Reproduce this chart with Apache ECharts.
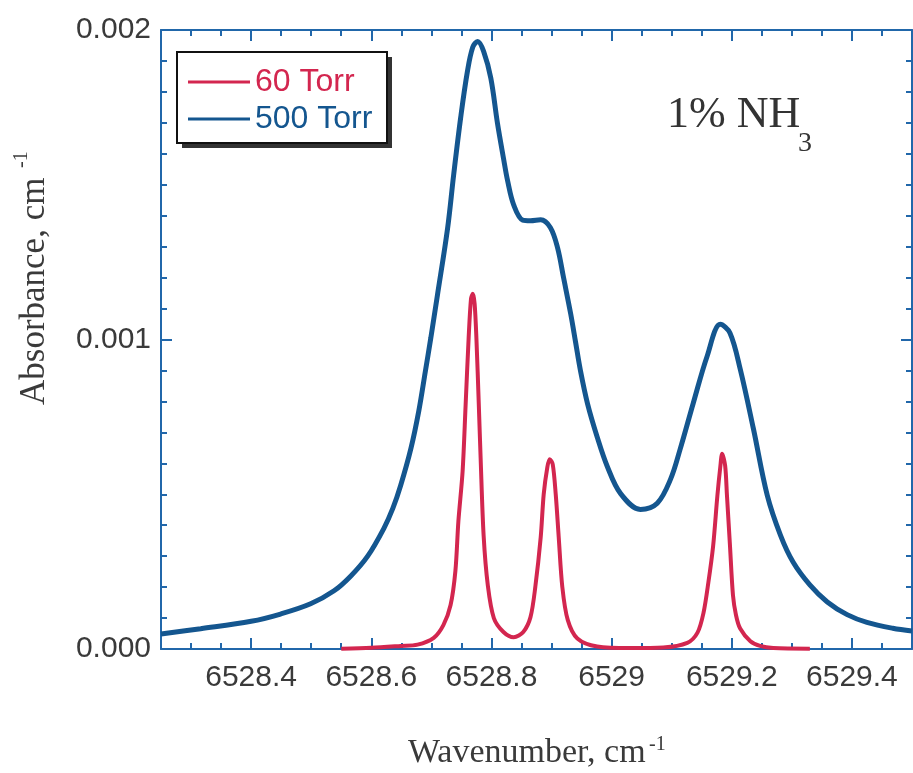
<!DOCTYPE html>
<html>
<head>
<meta charset="utf-8">
<script src="https://cdn.jsdelivr.net/npm/echarts@6/dist/echarts.min.js"></script>
<style>
html,body{margin:0;padding:0;background:#fff;}
#chart{width:913px;height:773px;}
</style>
</head>
<body>
<div id="chart"></div>
<script>
// ---- data ----
const seriesNames = ['60 Torr', '500 Torr'];
const xTickLabels = [6528.4, 6528.6, 6528.8, 6529.0, 6529.2, 6529.4];
const yTickLabels = [0, 0.001, 0.002];
const xRange = [6528.25, 6529.5];
const yRange = [0, 0.002];

// 500 Torr (blue)
const wn500 = [6528.250, 6528.316, 6528.400, 6528.449, 6528.499, 6528.538, 6528.566, 6528.594, 6528.621, 6528.636,
  6528.649, 6528.666, 6528.679, 6528.690, 6528.699, 6528.710, 6528.727, 6528.737, 6528.749, 6528.760,
  6528.769, 6528.777, 6528.787, 6528.799, 6528.810, 6528.820, 6528.827, 6528.837, 6528.852, 6528.865,
  6528.882, 6528.898, 6528.910, 6528.920, 6528.932, 6528.940, 6528.948, 6528.960, 6528.976, 6528.993,
  6529.015, 6529.048, 6529.076, 6529.098, 6529.114, 6529.136, 6529.159, 6529.181, 6529.197, 6529.214,
  6529.236, 6529.259, 6529.281, 6529.302, 6529.330, 6529.359, 6529.392, 6529.425, 6529.468, 6529.500];
const abs500 = [0.0000484, 0.0000655, 0.0000894, 0.000113, 0.000146, 0.000188, 0.000236, 0.000300, 0.000390, 0.000455,
  0.000529, 0.000648, 0.000768, 0.000897, 0.001004, 0.001142, 0.001359, 0.001530, 0.001720, 0.001866,
  0.001945, 0.001963, 0.001931, 0.001844, 0.001699, 0.001586, 0.001512, 0.001435, 0.001386, 0.001384,
  0.001387, 0.001362, 0.001297, 0.001200, 0.001082, 0.000992, 0.000901, 0.000792, 0.000685, 0.000589,
  0.000502, 0.000451, 0.000471, 0.000548, 0.000645, 0.000795, 0.000946, 0.001049, 0.001021, 0.000905,
  0.000712, 0.000497, 0.000368, 0.000281, 0.000207, 0.000152, 0.000111, 0.000086, 0.000067, 0.000058];

// 60 Torr (red)
const wn60 = [6528.550, 6528.600, 6528.649, 6528.677, 6528.704, 6528.720, 6528.732, 6528.740, 6528.745, 6528.752,
  6528.757, 6528.762, 6528.766, 6528.769, 6528.772, 6528.775, 6528.779, 6528.782, 6528.787, 6528.794,
  6528.804, 6528.820, 6528.837, 6528.853, 6528.865, 6528.873, 6528.882, 6528.887, 6528.893, 6528.897,
  6528.902, 6528.907, 6528.912, 6528.918, 6528.927, 6528.943, 6528.976, 6529.031, 6529.086, 6529.126,
  6529.143, 6529.153, 6529.161, 6529.169, 6529.176, 6529.181, 6529.184, 6529.189, 6529.192, 6529.197,
  6529.202, 6529.207, 6529.214, 6529.231, 6529.247, 6529.269, 6529.330];
const abs60 = [0.000001, 0.000004, 0.000010, 0.000014, 0.000036, 0.000077, 0.000142, 0.000252, 0.000413, 0.000574,
  0.000787, 0.001003, 0.001132, 0.001148, 0.001116, 0.001003, 0.000787, 0.000617, 0.000366, 0.000205,
  0.000100, 0.000055, 0.000038, 0.000055, 0.000103, 0.000200, 0.000361, 0.000500, 0.000587, 0.000613,
  0.000597, 0.000500, 0.000361, 0.000200, 0.000094, 0.000034, 0.000008, 0.000003, 0.000005, 0.000020,
  0.000053, 0.000117, 0.000214, 0.000333, 0.000494, 0.000590, 0.000631, 0.000592, 0.000496, 0.000335,
  0.000174, 0.000110, 0.000066, 0.000025, 0.000010, 0.000003, 0.000001];

// ---- styling ----
const RED = '#d3264f';
const BLUE = '#14568f';
const AXIS = '#2167aa';
const LABEL = '#3a3a3a';
const SANS = '"Liberation Sans", Arial, sans-serif';
const SERIF = '"Liberation Serif", "Times New Roman", serif';

const minorX = [];
for (let k = Math.ceil(xRange[0] / 0.05 - 1e-9); k <= Math.floor(xRange[1] / 0.05 + 1e-9); k++) {
  minorX.push(Math.round(k * 5) / 100);
}

function xAxisDef(pos, ticks, len, showLine, showLabel) {
  return {
    type: 'value', position: pos, min: xRange[0], max: xRange[1],
    axisLine: { show: showLine, onZero: false, lineStyle: { color: AXIS, width: 2 } },
    axisTick: { show: true, inside: true, length: len, customValues: ticks, lineStyle: { color: AXIS, width: 2 } },
    axisLabel: {
      show: showLabel, customValues: xTickLabels, margin: 14, color: LABEL, fontSize: 30, fontFamily: SANS,
      formatter: v => String(Number(Number(v).toFixed(1)))
    },
    splitLine: { show: false }
  };
}
function yAxisDef(pos, showLabel) {
  return {
    type: 'value', position: pos, min: yRange[0], max: yRange[1], interval: 0.001,
    axisLine: { show: true, onZero: false, lineStyle: { color: AXIS, width: 2 } },
    axisTick: { show: true, inside: true, length: 11, lineStyle: { color: AXIS, width: 2 } },
    minorTick: { show: true, splitNumber: 10, length: 6, lineStyle: { color: AXIS, width: 2 } },
    axisLabel: {
      show: showLabel, margin: 10, color: LABEL, fontSize: 30, fontFamily: SANS,
      formatter: v => Number(v).toFixed(3)
    },
    splitLine: { show: false }, minorSplitLine: { show: false }
  };
}

const chart = echarts.init(document.getElementById('chart'), null, { renderer: 'canvas' });
chart.setOption({
  animation: false,
  backgroundColor: '#fff',
  grid: { left: 161, right: 1, top: 30, bottom: 124, containLabel: false },
  xAxis: [
    xAxisDef('bottom', xTickLabels, 11, true, true),
    xAxisDef('bottom', minorX, 6, false, false),
    xAxisDef('top', xTickLabels, 11, true, false),
    xAxisDef('top', minorX, 6, false, false)
  ],
  yAxis: [yAxisDef('left', true), yAxisDef('right', false)],
  legend: {
    orient: 'vertical', left: 177, top: 53,
    padding: [13, 15, 12, 11], itemGap: 5, itemWidth: 62, itemHeight: 3, icon: 'rect',
    selectedMode: false, z: 10,
    textStyle: { fontFamily: SANS, fontSize: 32, lineHeight: 30 },
    data: [
      { name: seriesNames[0], textStyle: { color: RED } },
      { name: seriesNames[1], textStyle: { color: BLUE } }
    ]
  },
  graphic: [
    { type: 'rect', z: 5, shape: { x: 182, y: 57, width: 210, height: 91 }, style: { fill: '#333', stroke: null } },
    { type: 'rect', z: 6, shape: { x: 177, y: 52, width: 210, height: 91 }, style: { fill: '#fff', stroke: '#111', lineWidth: 2 } },
    { type: 'text', x: 408, y: 753, style: { text: 'Wavenumber, cm', font: '34px ' + SERIF, fill: LABEL, textAlign: 'left', textVerticalAlign: 'middle' } },
    { type: 'text', x: 649, y: 745, style: { text: '-1', font: '20px ' + SERIF, fill: LABEL, textAlign: 'left', textVerticalAlign: 'middle' } },
    { type: 'text', x: 35, y: 405, rotation: Math.PI / 2, style: { text: 'Absorbance, cm', font: '35px ' + SERIF, fill: LABEL, textAlign: 'left', textVerticalAlign: 'middle' } },
    { type: 'text', x: 22, y: 168, rotation: Math.PI / 2, style: { text: '-1', font: '20px ' + SERIF, fill: LABEL, textAlign: 'left', textVerticalAlign: 'middle' } },
    { type: 'text', x: 667, y: 115, style: { text: '1% NH', font: '44px ' + SERIF, fill: '#333', textAlign: 'left', textVerticalAlign: 'middle' } },
    { type: 'text', x: 798, y: 144, style: { text: '3', font: '28px ' + SERIF, fill: '#333', textAlign: 'left', textVerticalAlign: 'middle' } }
  ],
  series: [
    {
      name: seriesNames[0], type: 'line', xAxisIndex: 0, yAxisIndex: 0,
      data: wn60.map((x, i) => [x, abs60[i]]),
      showSymbol: false, smooth: 0.3,
      lineStyle: { color: RED, width: 4 }, itemStyle: { color: RED }, z: 4
    },
    {
      name: seriesNames[1], type: 'line', xAxisIndex: 0, yAxisIndex: 0,
      data: wn500.map((x, i) => [x, abs500[i]]),
      showSymbol: false, smooth: 0.35,
      lineStyle: { color: BLUE, width: 5 }, itemStyle: { color: BLUE }, z: 3
    }
  ]
});
</script>
</body>
</html>
